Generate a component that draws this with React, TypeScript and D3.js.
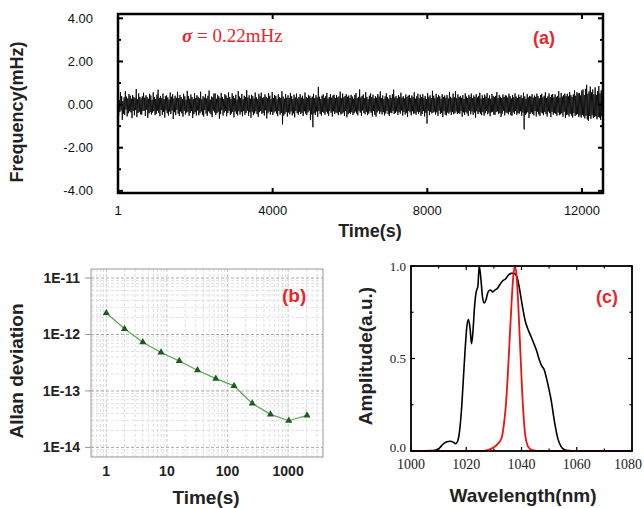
import React from "react";
import * as d3 from "d3";

// (a) frequency record in mHz, one reading every SAMPLE_STEP seconds
const SAMPLE_STEP = 15.7;
const freqNoise = [
  0.45,-0.52,0.21,-0.34,0.58,-0.27,0.39,-0.71,0.16,-0.42,0.33,-0.48,0.62,-0.23,0.37,-0.55,0.28,-0.40,0.49,-0.31,
  0.41,-0.36,0.27,-0.63,0.44,-0.29,0.35,-0.50,0.30,-0.26,0.72,-0.58,0.24,-0.39,0.52,-0.33,0.36,-0.45,0.29,-0.47,
  0.38,-0.30,0.55,-0.28,0.32,-0.53,0.43,-0.24,0.34,-0.61,0.27,-0.41,0.50,-0.35,0.42,-0.46,0.22,-0.37,0.57,-0.30,
  0.34,-0.49,0.26,-0.43,0.46,-0.28,0.69,-0.38,0.31,-0.54,0.40,-0.25,0.29,-0.47,0.51,-0.34,0.25,-0.60,0.39,-0.27,
  0.43,-0.40,0.33,-0.51,0.23,-0.32,0.56,-0.44,0.36,-0.27,0.48,-0.67,0.28,-0.35,0.41,-0.49,0.31,-0.24,0.59,-0.42,
  0.30,-0.53,0.45,-0.32,0.35,-0.41,0.26,-0.56,0.50,-0.29,0.38,-0.46,0.23,-0.37,0.64,-0.33,0.40,-0.52,0.27,-0.39,
  0.47,-0.30,0.34,-0.62,0.25,-0.44,0.53,-0.35,0.31,-0.50,0.43,-0.27,0.36,-0.50,0.29,-0.40,0.60,-0.32,0.24,-0.48,
  0.39,-0.55,0.32,-0.25,0.49,-0.42,0.28,-0.52,0.41,-0.31,0.65,-0.38,0.22,-0.45,0.37,-0.58,0.33,-0.28,0.51,-0.36,
  0.52,-0.48,0.27,-0.40,0.45,-0.33,0.38,-0.65,0.30,-0.44,0.54,-0.26,0.35,-0.51,0.25,-0.37,0.48,-0.30,0.42,-0.54,
  0.31,-0.39,0.57,-0.28,0.34,-0.48,0.26,-0.41,0.52,-0.34,0.40,-0.59,0.29,-0.32,0.46,-0.43,0.23,-0.50,0.63,-0.31,
  0.37,-0.46,0.30,-0.35,0.49,-0.54,0.25,-0.30,0.41,-0.47,0.34,-0.39,0.67,-0.28,0.32,-0.52,0.43,-0.36,0.27,-0.61,
  0.45,-0.33,0.39,-0.49,0.28,-0.41,0.56,-0.31,0.33,-0.44,0.24,-0.57,0.50,-0.35,0.38,-0.29,0.55,-0.43,0.31,-0.38,
  0.34,-0.51,0.47,-0.26,0.36,-0.64,0.29,-0.40,0.53,-0.32,0.41,-0.46,0.26,-0.34,0.58,-0.48,0.30,-0.37,0.44,-0.31,
  0.40,-0.42,0.25,-0.54,0.48,-0.30,0.35,-0.47,0.31,-0.39,0.62,-0.92,0.37,-0.51,0.27,-0.43,0.49,-0.34,0.32,-0.56,
  0.43,-0.37,0.30,-0.45,0.54,-0.32,0.39,-0.50,0.26,-0.41,0.46,-0.59,0.33,-0.29,0.51,-0.40,0.28,-0.47,0.35,-0.33,
  0.48,-0.44,0.32,-0.38,0.41,-0.53,0.27,-0.31,0.56,-0.42,0.34,-0.49,0.30,-0.36,0.45,-0.28,0.39,-0.72,0.31,-0.46,
  0.37,-1.05,0.50,-0.40,0.29,-0.48,0.43,-0.32,0.33,-0.57,0.82,-0.30,0.36,-0.43,0.26,-0.51,0.41,-0.34,0.47,-0.39,
  0.31,-0.47,0.39,-0.33,0.54,-0.41,0.28,-0.52,0.35,-0.29,0.49,-0.38,0.32,-0.55,0.42,-0.31,0.46,-0.44,0.30,-0.36,
  0.44,-0.40,0.33,-0.49,0.38,-0.34,0.60,-0.46,0.29,-0.42,0.51,-0.37,0.34,-0.53,0.40,-0.30,0.48,-0.59,0.36,-0.45,
  0.42,-0.38,0.31,-0.44,0.45,-0.35,0.37,-0.48,0.27,-0.40,0.45,-0.32,0.53,-0.41,0.30,-0.50,0.36,-0.29,0.70,-0.37,
  0.33,-0.52,0.40,-0.27,0.47,-0.39,0.29,-0.45,0.58,-0.34,0.36,-0.49,0.25,-0.42,0.41,-0.31,0.52,-0.38,0.34,-0.55,
  0.46,-0.30,0.28,-0.47,0.39,-0.56,0.32,-0.36,0.49,-0.28,0.37,-0.43,0.61,-0.33,0.30,-0.46,0.42,-0.35,0.26,-0.50,
  0.38,-0.41,0.52,-0.29,0.34,-0.45,0.27,-0.53,0.44,-0.37,0.31,-0.40,0.48,-0.30,0.69,-0.44,0.33,-0.39,0.40,-0.32,
  0.29,-0.48,0.43,-0.35,0.36,-0.42,0.55,-0.27,0.32,-0.51,0.39,-0.34,0.28,-0.46,0.47,-0.38,0.35,-0.57,0.41,-0.29,
  0.45,-0.36,0.30,-0.50,0.42,-0.31,0.34,-0.44,0.57,-0.40,0.27,-0.47,0.38,-0.33,0.50,-0.42,0.29,-0.35,0.46,-0.52,
  0.35,-0.43,0.48,-0.30,0.31,-0.55,0.40,-0.38,0.26,-0.88,0.53,-0.29,0.36,-0.49,0.43,-0.34,0.30,-0.41,0.64,-0.37,
  0.41,-0.33,0.29,-0.46,0.50,-0.36,0.33,-0.52,0.45,-0.28,0.38,-0.44,0.27,-0.39,0.48,-0.58,0.35,-0.31,0.42,-0.47,
  0.32,-0.50,0.44,-0.37,0.28,-0.42,0.59,-0.33,0.36,-0.48,0.30,-0.35,0.51,-0.45,0.34,-0.40,0.62,-0.32,0.29,-0.44,
  0.47,-0.39,0.35,-0.43,0.40,-0.30,0.31,-0.56,0.44,-0.36,0.26,-0.48,0.52,-0.34,0.37,-0.41,0.30,-0.53,0.45,-0.28,
  0.36,-0.45,0.51,-0.32,0.29,-0.47,0.42,-0.37,0.34,-0.60,0.48,-0.31,0.33,-0.44,0.40,-0.35,0.55,-0.42,0.28,-0.49,
  0.43,-0.34,0.30,-0.51,0.46,-0.40,0.37,-0.29,0.53,-0.45,0.31,-0.38,0.42,-0.54,0.27,-0.36,0.49,-0.33,0.39,-0.46,
  0.34,-0.48,0.40,-0.35,0.58,-0.31,0.29,-0.44,0.45,-0.39,0.36,-0.57,0.30,-0.42,0.47,-0.28,0.35,-0.50,0.43,-0.37,
  0.41,-0.38,0.32,-0.45,0.50,-0.33,0.39,-0.49,0.28,-0.52,0.44,-0.36,0.34,-0.43,0.52,-0.30,0.37,-0.47,0.31,-0.40,
  0.46,-0.42,0.35,-0.31,0.43,-0.52,0.30,-0.37,0.55,-1.15,0.38,-0.48,0.27,-0.41,0.49,-0.35,0.33,-0.62,0.40,-0.44,
  0.37,-0.36,0.48,-0.43,0.32,-0.50,0.42,-0.30,0.36,-0.55,0.51,-0.33,0.39,-0.46,0.29,-0.53,0.44,-0.37,0.50,-0.41,
  0.33,-0.49,0.41,-0.34,0.57,-0.44,0.30,-0.55,0.38,-0.32,0.52,-0.40,0.35,-0.58,0.45,-0.34,0.49,-0.47,0.33,-0.39,
  0.47,-0.43,0.36,-0.52,0.40,-0.37,0.63,-0.49,0.32,-0.45,0.54,-0.40,0.37,-0.56,0.43,-0.33,0.51,-0.62,0.39,-0.48,
  0.50,-0.46,0.38,-0.55,0.58,-0.42,0.44,-0.51,0.35,-0.60,0.47,-0.39,0.66,-0.53,0.41,-0.48,0.57,-0.44,0.52,-0.58,
  0.54,-0.50,0.42,-0.61,0.65,-0.47,0.70,-0.55,0.44,-0.64,0.73,-0.51,0.92,-0.69,0.50,-0.75,0.61,-0.53,0.83,-0.66,
  0.56,-0.49,0.70,-0.62,0.48,-0.58,0.80,-0.54,0.45,-0.68,0.62,-0.57,0.86,-0.60,0.52,-0.71,0.66,-0.55,0.77,-0.62,
];
const freqTicks = [4, 2, 0, -2, -4];
const timeTicks = [1, 4000, 8000, 12000];

// (b) Allan deviation
const tau = [1, 2, 4, 8, 16, 32, 64, 128, 256, 512, 1024, 2048];
const allanDev = [2.4e-12, 1.26e-12, 7.3e-13, 4.8e-13, 3.4e-13, 2.33e-13, 1.65e-13, 1.23e-13, 6.0e-14, 3.85e-14, 2.97e-14, 3.7e-14];
const tauTicks = [1, 10, 100, 1000];
const devTicks = [1e-11, 1e-12, 1e-13, 1e-14];
const devTickLabels = ["1E-11", "1E-12", "1E-13", "1E-14"];

// (c) spectra
const broadWl = [1000,1008,1010,1011.8,1013,1014.2,1015.3,1016.2,1016.8,1017.6,1018.4,1019,1019.6,1020.2,1020.8,1021.4,1021.9,1022.4,1023,1023.6,1024.2,1024.7,1025.3,1025.9,1026.5,1027.2,1027.9,1028.8,1029.6,1030.4,1031.3,1032.2,1033.2,1034.2,1035.2,1036.2,1037.2,1038.1,1039,1039.8,1040.6,1041.4,1042.3,1043.4,1044.5,1045.5,1046.5,1047.3,1048.2,1049.1,1050,1050.8,1051.6,1052.4,1053.3,1054.3,1055.4,1057,1060,1080];
const broadAmp = [0,0.002,0.012,0.04,0.05,0.053,0.048,0.04,0.05,0.11,0.25,0.4,0.55,0.67,0.71,0.66,0.58,0.64,0.78,0.86,0.89,1.0,0.93,0.83,0.8,0.82,0.86,0.87,0.86,0.87,0.88,0.9,0.92,0.93,0.95,0.96,0.96,0.95,0.9,0.83,0.76,0.7,0.66,0.62,0.58,0.54,0.49,0.46,0.44,0.39,0.33,0.27,0.19,0.12,0.06,0.025,0.008,0.002,0,0];
const narrowWl = [1000,1026,1028,1030,1031.5,1032.8,1033.6,1034.3,1035,1035.7,1036.4,1037,1037.6,1038.2,1038.8,1039.4,1040,1040.7,1041.4,1042.2,1043.2,1044.5,1046,1080];
const narrowAmp = [0,0,0.006,0.02,0.04,0.07,0.14,0.24,0.4,0.6,0.8,0.94,1.0,0.95,0.8,0.6,0.4,0.2,0.08,0.03,0.01,0.003,0,0];
const wlTicks = [1000, 1020, 1040, 1060, 1080];
const ampTicks = [0, 0.5, 1];

const RED = "#e8262b";
const SANS = "'Liberation Sans', Arial, sans-serif";
const SERIF = "'Liberation Serif', 'Times New Roman', serif";

function PanelA() {
  const x = d3.scaleLinear().domain([0, 12544]).range([118, 603]);
  const y = d3.scaleLinear().domain([-4.1, 4.2]).range([193, 14]);
  const line = d3.line<number>().x((d, i) => x(1 + i * SAMPLE_STEP)).y(d => y(d));
  const minor = d3.range(-4, 5, 1);
  return (
    <g>
      <defs>
        <clipPath id="clipA"><rect x={118} y={14} width={485} height={179} /></clipPath>
      </defs>
      <path d={line(freqNoise) || ""} fill="none" stroke="#000" strokeWidth={0.85} clipPath="url(#clipA)" />
      {minor.map(v => {
        const len = v % 2 === 0 ? 5 : 3;
        return (
          <g key={v}>
            <line x1={118} x2={118 + len} y1={y(v)} y2={y(v)} stroke="#000" strokeWidth={2} />
            <line x1={603} x2={603 - len} y1={y(v)} y2={y(v)} stroke="#000" strokeWidth={2} />
          </g>
        );
      })}
      {timeTicks.slice(1).map(t => (
        <g key={t}>
          <line x1={x(t)} x2={x(t)} y1={193} y2={188} stroke="#000" strokeWidth={2} />
          <line x1={x(t)} x2={x(t)} y1={14} y2={19} stroke="#000" strokeWidth={2} />
        </g>
      ))}
      <rect x={118} y={14} width={485} height={179} fill="none" stroke="#000" strokeWidth={2.5} />
      {freqTicks.map(v => (
        <text key={v} x={93} y={y(v)} dy="0.35em" textAnchor="end" fontSize={13} fontFamily={SANS} fill="#111">
          {v.toFixed(2)}
        </text>
      ))}
      {timeTicks.map(t => (
        <text key={t} x={x(t)} y={210} dy="0.35em" textAnchor="middle" fontSize={13} fontFamily={SANS} fill="#111">
          {t}
        </text>
      ))}
      <text x={370} y={231} dy="0.35em" textAnchor="middle" fontSize={18} fontWeight="bold" fontFamily={SANS} fill="#222">Time(s)</text>
      <text transform="translate(17,112) rotate(-90)" dy="0.35em" textAnchor="middle" fontSize={18} fontWeight="bold" fontFamily={SANS} fill="#222">Frequency(mHz)</text>
      <text x={182} y={42} fontSize={19} fontFamily={SERIF} fill={RED}>
        <tspan fontStyle="italic" fontWeight="bold">σ</tspan> = 0.22mHz
      </text>
      <text x={533} y={38} dy="0.35em" fontSize={18} fontWeight="bold" fontFamily={SANS} fill={RED}>(a)</text>
    </g>
  );
}

function PanelB() {
  const x = d3.scaleLog().domain([0.56, 3760]).range([91, 323]);
  const y = d3.scaleLog().domain([10 ** -14.17, 10 ** -10.84]).range([457, 269]);
  const line = d3.line<number>().x((d, i) => x(tau[i])).y(d => y(d));
  const xGrid = x.ticks(40).filter(v => v >= 0.56 && v <= 3760);
  const yGrid = y.ticks(40);
  const tri = d3.symbol(d3.symbolTriangle, 22)() || "";
  const isDecade = (v: number) => Math.abs(Math.log10(v) - Math.round(Math.log10(v))) < 1e-6;
  return (
    <g>
      {xGrid.map(v => (
        <line key={"x" + v} x1={x(v)} x2={x(v)} y1={269} y2={457} stroke={isDecade(v) ? "#c4c4c4" : "#e0e0e0"} strokeWidth={1} strokeDasharray="3,2" />
      ))}
      {yGrid.map(v => (
        <line key={"y" + v} x1={91} x2={323} y1={y(v)} y2={y(v)} stroke={isDecade(v) ? "#aaa" : "#e2e2e2"} strokeWidth={1} strokeDasharray="3,2" />
      ))}
      <rect x={91} y={269} width={232} height={188} fill="none" stroke="#999" strokeWidth={1} />
      {devTicks.map(v => (
        <line key={v} x1={85} x2={91} y1={y(v)} y2={y(v)} stroke="#999" strokeWidth={1} />
      ))}
      <path d={line(allanDev) || ""} fill="none" stroke="#5fa557" strokeWidth={1.2} />
      {allanDev.map((d, i) => (
        <path key={i} d={tri} transform={`translate(${x(tau[i])},${y(d)})`} fill="#1f5a1f" />
      ))}
      {devTicks.map((v, i) => (
        <text key={v} x={80} y={y(v)} dy="0.35em" textAnchor="end" fontSize={14} fontWeight="bold" fontFamily={SANS} fill="#222">
          {devTickLabels[i]}
        </text>
      ))}
      {tauTicks.map(t => (
        <text key={t} x={x(t)} y={471} dy="0.35em" textAnchor="middle" fontSize={14} fontWeight="bold" fontFamily={SANS} fill="#222">
          {t}
        </text>
      ))}
      <text x={206} y={497} dy="0.35em" textAnchor="middle" fontSize={19} fontWeight="bold" fontFamily={SANS} fill="#222">Time(s)</text>
      <text transform="translate(16,371) rotate(-90)" dy="0.35em" textAnchor="middle" fontSize={19} fontWeight="bold" fontFamily={SANS} fill="#222">Allan deviation</text>
      <text x={282} y={295} dy="0.35em" fontSize={19} fontWeight="bold" fontFamily={SANS} fill={RED}>(b)</text>
    </g>
  );
}

function PanelC() {
  const x = d3.scaleLinear().domain([1000, 1080]).range([411, 632]);
  const y = d3.scaleLinear().domain([0, 1]).range([451, 266]);
  const broad = d3.line<number>().x((d, i) => x(broadWl[i])).y(d => y(d)).curve(d3.curveMonotoneX);
  const narrow = d3.line<number>().x((d, i) => x(narrowWl[i])).y(d => y(d)).curve(d3.curveMonotoneX);
  const xMinor = d3.range(1000, 1081, 10);
  const yMinor = d3.range(0, 1.01, 0.25);
  const last = wlTicks[wlTicks.length - 1];
  return (
    <g>
      <path d={broad(broadAmp) || ""} fill="none" stroke="#000" strokeWidth={1.6} />
      <path d={narrow(narrowAmp) || ""} fill="none" stroke="#ee1111" strokeWidth={1.8} />
      {xMinor.map(v => {
        const len = v % 20 === 0 ? 4 : 2.5;
        return (
          <g key={v}>
            <line x1={x(v)} x2={x(v)} y1={451} y2={451 - len} stroke="#000" strokeWidth={1.2} />
            <line x1={x(v)} x2={x(v)} y1={266} y2={266 + len} stroke="#000" strokeWidth={1.2} />
          </g>
        );
      })}
      {yMinor.map(v => {
        const len = Math.abs(v * 2 - Math.round(v * 2)) < 1e-6 ? 4 : 2.5;
        return (
          <g key={v}>
            <line x1={411} x2={411 + len} y1={y(v)} y2={y(v)} stroke="#000" strokeWidth={1.2} />
            <line x1={632} x2={632 - len} y1={y(v)} y2={y(v)} stroke="#000" strokeWidth={1.2} />
          </g>
        );
      })}
      <rect x={411} y={266} width={221} height={185} fill="none" stroke="#000" strokeWidth={1.8} />
      {ampTicks.map(v => (
        <text key={v} x={406} y={y(v) - (v === 0 ? 4 : 0)} dy="0.35em" textAnchor="end" fontSize={13} fontFamily={SERIF} fill="#222">
          {v.toFixed(1)}
        </text>
      ))}
      {wlTicks.map(t => (
        <text key={t} x={t === last ? 642 : x(t)} y={464} dy="0.35em" textAnchor={t === last ? "end" : "middle"} fontSize={14} fontFamily={SERIF} fill="#222">
          {t}
        </text>
      ))}
      <text x={523} y={495} dy="0.35em" textAnchor="middle" fontSize={19} fontWeight="bold" fontFamily={SANS} fill="#222">Wavelength(nm)</text>
      <text transform="translate(365,356) rotate(-90)" dy="0.35em" textAnchor="middle" fontSize={19} fontWeight="bold" fontFamily={SANS} fill="#222">Amplitude(a.u.)</text>
      <text x={596} y={297} dy="0.35em" fontSize={18} fontWeight="bold" fontFamily={SANS} fill={RED}>(c)</text>
    </g>
  );
}

export default function App() {
  return (
    <svg width={644} height={508} style={{ position: "absolute", left: 0, top: 0, background: "#fff" }}>
      <PanelA />
      <PanelB />
      <PanelC />
    </svg>
  );
}
